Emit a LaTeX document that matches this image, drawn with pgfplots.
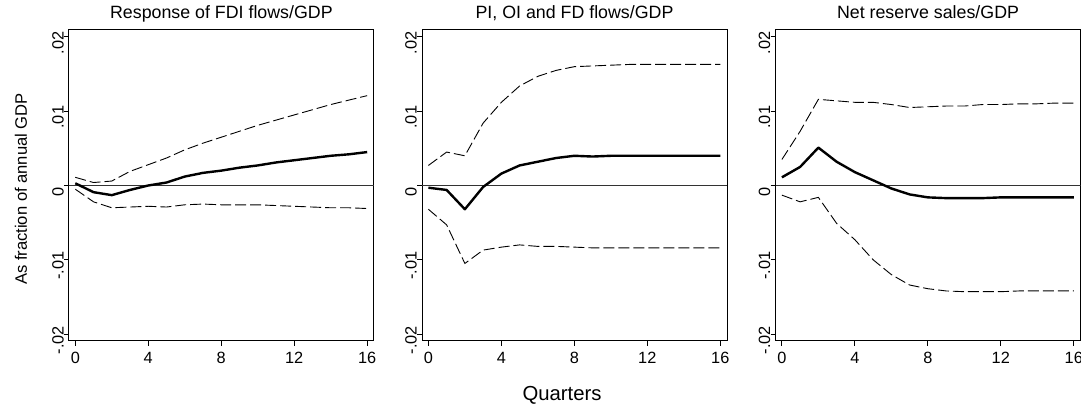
\documentclass[border=0pt]{standalone}
\usepackage{fontspec}
\setmainfont{Liberation Sans}
\usepackage{pgfplots}
\usepackage{pgfplotstable}
\pgfplotsset{compat=1.18}

% quarter, lower band, response, upper band
\pgfplotstableread{
q lo irf hi
0 -0.0005 0.0003 0.0011
1 -0.0022 -0.0009 0.0004
2 -0.0030 -0.0013 0.0006
3 -0.0029 -0.0006 0.0019
4 -0.0028 0.0000 0.0028
5 -0.0029 0.0004 0.0037
6 -0.0026 0.0012 0.0048
7 -0.0025 0.0017 0.0057
8 -0.0026 0.0020 0.0065
9 -0.0026 0.0024 0.0073
10 -0.0026 0.0027 0.0081
11 -0.0027 0.0031 0.0088
12 -0.0028 0.0034 0.0095
13 -0.0029 0.0037 0.0102
14 -0.0030 0.0040 0.0109
15 -0.0030 0.0042 0.0115
16 -0.0031 0.0045 0.0121
}\fdi

\pgfplotstableread{
q lo irf hi
0 -0.0032 -0.0003 0.0027
1 -0.0053 -0.0006 0.0045
2 -0.0105 -0.0032 0.0040
3 -0.0087 -0.0002 0.0084
4 -0.0083 0.0016 0.0112
5 -0.0080 0.0027 0.0134
6 -0.0082 0.0032 0.0147
7 -0.0082 0.0037 0.0155
8 -0.0083 0.0040 0.0160
9 -0.0084 0.0039 0.0161
10 -0.0084 0.0040 0.0162
11 -0.0084 0.0040 0.0163
12 -0.0084 0.0040 0.0163
13 -0.0084 0.0040 0.0163
14 -0.0084 0.0040 0.0163
15 -0.0084 0.0040 0.0163
16 -0.0084 0.0040 0.0163
}\pioi

\pgfplotstableread{
q lo irf hi
0 -0.0013 0.0011 0.0035
1 -0.0022 0.0025 0.0073
2 -0.0016 0.0051 0.0116
3 -0.0051 0.0032 0.0114
4 -0.0073 0.0018 0.0112
5 -0.0100 0.0007 0.0112
6 -0.0120 -0.0004 0.0109
7 -0.0134 -0.0012 0.0105
8 -0.0139 -0.0016 0.0106
9 -0.0142 -0.0017 0.0107
10 -0.0143 -0.0017 0.0107
11 -0.0143 -0.0017 0.0109
12 -0.0143 -0.0016 0.0109
13 -0.0142 -0.0016 0.0110
14 -0.0142 -0.0016 0.0110
15 -0.0142 -0.0016 0.0111
16 -0.0142 -0.0016 0.0111
}\reserves

\pgfplotsset{
  irf panel/.style={
    anchor=south west,
    scale only axis, width=305pt, height=311pt,
    xmin=-0.35, xmax=16.37, ymin=-0.02094, ymax=0.02094,
    xtick={0,4,8,12,16}, xticklabels={0,4,8,12,16},
    ytick={-0.02,-0.01,0,0.01,0.02}, yticklabels={-.02,-.01,0,.01,.02},
    scaled y ticks=false,
    xtick pos=bottom, ytick pos=left, tick align=outside,
    major tick length=5pt,
    axis line style={line width=1pt},
    every tick/.style={black, line width=1pt},
    tick label style={font=\fontsize{16.3}{18}\selectfont},
    yticklabel style={rotate=90, anchor=south, inner sep=0pt, xshift=-6pt},
    xticklabel style={anchor=north, inner sep=0pt, yshift=-6pt},
    title style={font=\fontsize{17.8}{20}\selectfont, at={(0.5,1)}, anchor=base, inner sep=0pt, yshift=5pt},
    clip=true,
  },
  band/.style={black, line width=0.9pt, dash pattern=on 11pt off 4pt},
  resp/.style={black, line width=2.4pt, line join=round},
}

\begin{document}
\begin{tikzpicture}
\useasboundingbox (0,0) rectangle (1081pt,406pt);

\begin{axis}[irf panel, at={(68.9pt,65pt)}, title={Response of FDI flows/GDP}]
  \draw[black!80, line width=1pt] (axis cs:-0.35,0) -- (axis cs:16.37,0);
  \addplot[band] table[x=q, y=hi] {\fdi};
  \addplot[band] table[x=q, y=lo] {\fdi};
  \addplot[resp] table[x=q, y=irf] {\fdi};
\end{axis}

\begin{axis}[irf panel, at={(422pt,65pt)}, title={PI, OI and FD flows/GDP}]
  \draw[black!80, line width=1pt] (axis cs:-0.35,0) -- (axis cs:16.37,0);
  \addplot[band] table[x=q, y=hi] {\pioi};
  \addplot[band] table[x=q, y=lo] {\pioi};
  \addplot[resp] table[x=q, y=irf] {\pioi};
\end{axis}

\begin{axis}[irf panel, at={(775.5pt,65pt)}, title={Net reserve sales/GDP}]
  \draw[black!80, line width=1pt] (axis cs:-0.35,0) -- (axis cs:16.37,0);
  \addplot[band] table[x=q, y=hi] {\reserves};
  \addplot[band] table[x=q, y=lo] {\reserves};
  \addplot[resp] table[x=q, y=irf] {\reserves};
\end{axis}

\node[rotate=90, anchor=base, inner sep=0pt, font=\fontsize{16.6}{19}\selectfont] at (27pt,217pt) {As fraction of annual GDP};
\node[anchor=base, inner sep=0pt, font=\fontsize{20.3}{23}\selectfont] at (562pt,5pt) {Quarters};
\end{tikzpicture}
\end{document}
